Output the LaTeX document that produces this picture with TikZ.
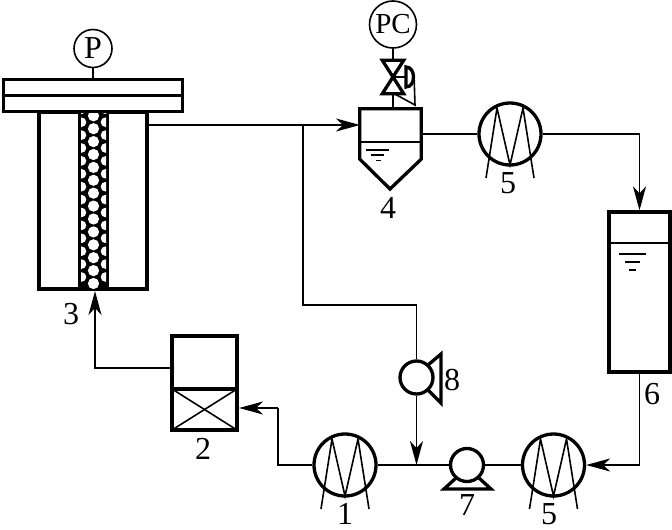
\documentclass[tikz,border=0pt]{standalone}
\usepackage{fontspec}
\setmainfont{Liberation Serif}
\usetikzlibrary{arrows.meta}
\begin{document}
\begin{tikzpicture}[
        x=1pt, y=-1pt,
        pipe/.style={line width=1.6pt},
        flow/.style={pipe, -{Stealth[length=24pt,width=13pt,inset=7pt]}},
        wall/.style={line width=3.3pt},
        vessel/.style={draw, rectangle, wall, inner sep=0pt},
        gauge/.style={draw, circle, line width=1.6pt, inner sep=0pt, font=\fontsize{32}{32}\selectfont},
        exchanger/.style={draw, circle, wall, minimum size=62pt, inner sep=0pt},
        pump/.style={draw, circle, wall, minimum size=33pt, inner sep=0pt},
        tag/.style={inner sep=0pt, font=\fontsize{32}{32}\selectfont},
    ]
    \useasboundingbox (0,0) rectangle (672,530);
    % reactor
    \node[vessel, minimum width=108pt, minimum height=177pt](reactor) at (93,200.5){};
    \node[vessel, fill=white, minimum width=179pt, minimum height=32pt](flange) at (93,95.5){};
    \draw[wall] (flange.west) -- (flange.east);
    \node[gauge, minimum size=38pt](P) at (93,48.5){P};
    \draw[pipe] (P.south) -- (flange.north);
    \node[vessel, fill=black, minimum width=27pt, minimum height=175pt](column) at (93.5,200.5){};
    \begin{scope}
        \clip (81,113) rectangle (106,288);
        \foreach \i in {0,...,13}{
            \fill[white] (93.5,283.5-12.9*\i) circle (5.6pt);
            \fill[white] (81.5,277-12.9*\i) circle (4.8pt);
            \fill[white] (105.5,277-12.9*\i) circle (4.8pt);
        }
    \end{scope}
    \coordinate (rout) at (147,125);
    \coordinate (tee) at (303,125);
    % separator
    \node[minimum width=61pt, minimum height=50pt, inner sep=0pt](sep) at (390.5,134){};
    \coordinate (septip) at (390,189);
    \coordinate (sepin) at (360,125);
    \coordinate (septop) at (393,109);
    \draw[wall, line join=miter] (sep.south west) -- (sep.north west) -- (sep.north east) -- (sep.south east) -- (septip) -- cycle;
    \draw[pipe] (360,142) -- (421,142);
    \draw[pipe] (366,150) -- (389,150);
    \draw[pipe] (371,155) -- (384,155);
    \draw[pipe] (376,160.5) -- (381,160.5);
    % valve
    \node[minimum width=21pt, minimum height=33pt, inner sep=0pt](valve) at (393,77){};
    \draw[wall, line join=miter] (valve.north west) -- (valve.north east) -- (valve.south west) -- (valve.south east) -- cycle;
    \node[gauge, minimum size=47pt](PC) at (393,24.5){\fontsize{29}{29}\selectfont PC};
    \draw[pipe] (PC.south) -- (valve.north);
    \draw[pipe] (valve.south) -- (septop);
    \draw[pipe] (valve.center) -- (406,77);
    \draw[wall] (406,67) .. controls (416,67) and (416,87) .. (406,87) -- cycle;
    \draw[pipe] (414,74) -- (415,105) -- (393,93);
    % exchangers
    \foreach \n/\cx/\cy in {hxa/510/134, hxb/553.5/465, hxc/345/465}{
        \node[exchanger](\n) at (\cx,\cy){};
        \draw[pipe] (\cx-24,\cy+44) -- (\cx-13,\cy-26) -- (\cx,\cy+31) -- (\cx+13,\cy-26) -- (\cx+24,\cy+44);
    }
    % storage tank
    \node[vessel, minimum width=61pt, minimum height=160pt](store) at (639.5,292){};
    \draw[pipe] (609,243) -- (670,243);
    \draw[pipe] (619,254) -- (646,254);
    \draw[pipe] (625,262) -- (640,262);
    \draw[pipe] (629,270) -- (636,270);
    % pumps
    \node[pump](pumpb) at (467,465){};
    \draw[wall, line join=miter] (456,478) -- (444,489) -- (491,489) -- (479,478);
    \node[pump](pumpa) at (416.5,377.5){};
    \draw[wall, line join=miter] (428,365) -- (441,354) -- (441,403) -- (428,390);
    % mixer
    \node[vessel, minimum width=65pt, minimum height=94pt](mixer) at (204.5,383){};
    \draw[wall] (172,389) -- (237,389);
    \draw[pipe] (172,389) -- (237,430);
    \draw[pipe] (237,389) -- (172,430);
    % piping
    \coordinate (bend) at (416.5,305);
    \coordinate (join) at (416.5,465);
    \coordinate (elbow) at (278,408);
    \coordinate (mixin) at (239,408);
    \coordinate (mixout) at (172,368);
    \coordinate (rin) at (95,291);
    \draw[flow] (rout) -- (sepin);
    \draw[pipe] (tee) |- (bend) -- (pumpa.north);
    \draw[flow] (pumpa.south) -- (join);
    \draw[pipe] (sep.east) -- (hxa.west);
    \draw[flow] (hxa.east) -| (store.north);
    \draw[flow] (store.south) |- (hxb.east);
    \draw[pipe] (hxb.west) -- (pumpb.east);
    \draw[pipe] (pumpb.west) -- (hxc.east);
    \draw[pipe] (hxc.west) -| (elbow);
    \draw[flow] (elbow) -- (mixin);
    \draw[flow] (mixout) -| (rin);
    % tags
    \node[tag](tag1) at (345,514){1};
    \node[tag](tag2) at (203,449){2};
    \node[tag](tag3) at (71,314){3};
    \node[tag](tag4) at (388,208){4};
    \node[tag](tag5a) at (508,183){5};
    \node[tag](tag5b) at (549,514){5};
    \node[tag](tag6) at (652,394){6};
    \node[tag](tag7) at (467,505){7};
    \node[tag](tag8) at (452,380){8};
\end{tikzpicture}
\end{document}
